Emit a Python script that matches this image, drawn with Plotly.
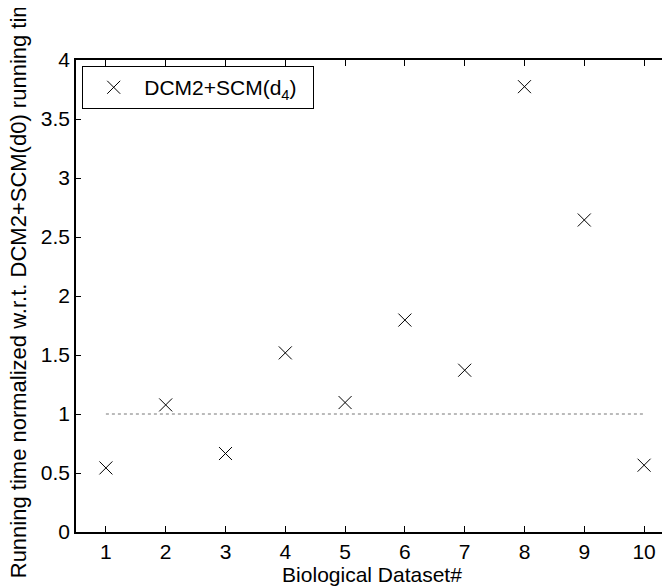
import plotly.graph_objects as go

datasets = [1, 2, 3, 4, 5, 6, 7, 8, 9, 10]
normalized_time = [0.543, 1.077, 0.665, 1.518, 1.097, 1.796, 1.371, 3.774, 2.644, 0.566]
baseline_x = [1, 10]
baseline_y = [1, 1]
y_ticks = [0, 0.5, 1, 1.5, 2, 2.5, 3, 3.5, 4]
y_tick_labels = ["0", "0.5", "1", "1.5", "2", "2.5", "3", "3.5", "4"]
y_title = "Running time normalized w.r.t. DCM2+SCM(d0) running time"
x_title = "Biological Dataset#"

FONT = "Liberation Sans"

fig = go.Figure()
fig.add_trace(go.Scatter(
    x=baseline_x, y=baseline_y, mode="lines",
    line=dict(color="#777777", width=1, dash="dot"),
    showlegend=False, hoverinfo="skip",
))
fig.add_trace(go.Scatter(
    x=datasets, y=normalized_time, mode="markers",
    name="DCM2+SCM(d<sub>4</sub>)\u00a0\u00a0",
    marker=dict(symbol="x-thin", size=13, line=dict(color="black", width=1), color="black"),
))

fig.update_layout(
    width=662, height=579,
    margin=dict(l=68, r=0, t=52, b=55),
    paper_bgcolor="white", plot_bgcolor="white",
    font=dict(family=FONT, size=21, color="black"),
    legend=dict(
        x=0.0105, y=0.987, xanchor="left", yanchor="top",
        bordercolor="black", borderwidth=1, bgcolor="white",
        font=dict(family=FONT, size=21), itemwidth=51,
    ),
)
fig.update_xaxes(
    range=[0.5, 10.4], tickmode="array", tickvals=datasets,
    ticks="inside", ticklen=6, tickcolor="black",
    showline=True, linecolor="black", linewidth=1.5, mirror="ticks",
    showgrid=False, zeroline=False,
    tickfont=dict(family=FONT, size=21),
    title=dict(text=x_title, standoff=0, font=dict(family=FONT, size=21)),
)
fig.update_yaxes(
    range=[0, 4], tickmode="array", tickvals=y_ticks, ticktext=y_tick_labels,
    ticks="inside", ticklen=5, tickcolor="black",
    showline=True, linecolor="black", linewidth=1.5, mirror="ticks",
    showgrid=False, zeroline=False,
    tickfont=dict(family=FONT, size=21),
)
fig.add_annotation(
    text=y_title, textangle=-90, showarrow=False,
    xref="paper", yref="paper", x=0, y=0.527,
    xanchor="center", yanchor="middle", xshift=-58,
    font=dict(family=FONT, size=22, color="black"),
)

fig.write_html("out.html")
